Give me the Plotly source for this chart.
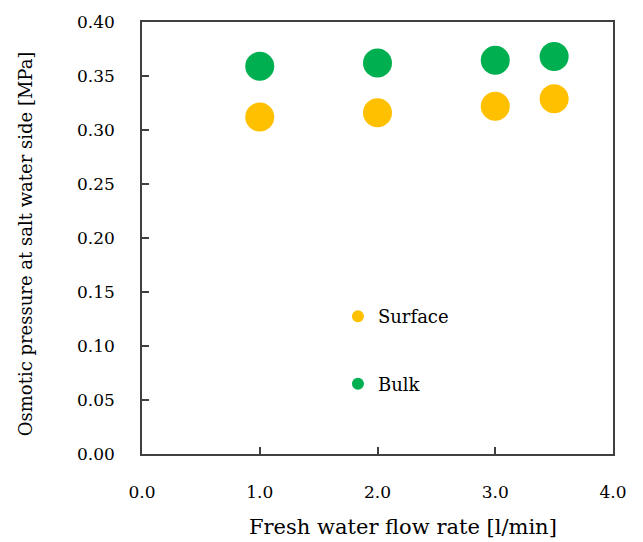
import plotly.graph_objects as go

# Fresh water flow rate [l/min]
flow_rate = [1.0, 2.0, 3.0, 3.5]
# Osmotic pressure at the salt water side [MPa]
surface_pressure = [0.312, 0.316, 0.322, 0.329]
bulk_pressure = [0.359, 0.362, 0.3645, 0.368]

x_ticks = [0.0, 1.0, 2.0, 3.0, 4.0]
y_ticks = [0.00, 0.05, 0.10, 0.15, 0.20, 0.25, 0.30, 0.35, 0.40]

SERIF = "DejaVu Serif"
AXIS_COLOR = "#404040"

fig = go.Figure()
fig.add_trace(go.Scatter(
    x=flow_rate, y=surface_pressure, mode="markers", name="Surface",
    legendgroup="surface",
    marker=dict(color="#FFC000", size=29, line=dict(width=0)),
))
fig.add_trace(go.Scatter(
    x=flow_rate, y=bulk_pressure, mode="markers", name="Bulk",
    legendgroup="bulk",
    marker=dict(color="#00B050", size=29, line=dict(width=0)),
))

axis_common = dict(
    showgrid=False, zeroline=False,
    showline=True, linecolor=AXIS_COLOR, linewidth=1.5, mirror=True,
    ticks="inside", ticklen=7, tickwidth=1.5, tickcolor=AXIS_COLOR,
    tickfont=dict(family=SERIF, size=17, color="#000000"),
)

fig.update_layout(
    width=643, height=542,
    margin=dict(l=142, r=30, t=19, b=88),
    paper_bgcolor="white", plot_bgcolor="white",
    font=dict(family=SERIF, color="#000000"),
    showlegend=True,
    legend=dict(
        x=0.416, y=0.361, xanchor="left", yanchor="top",
        bgcolor="rgba(0,0,0,0)", itemsizing="constant",
        tracegroupgap=41,
        font=dict(family=SERIF, size=18, color="#000000"),
    ),
    xaxis=dict(
        range=[0, 4], tickvals=x_ticks,
        ticktext=[f"{v:.1f}" for v in x_ticks],
        ticklabelstandoff=22,
        **axis_common,
    ),
    yaxis=dict(
        range=[0, 0.40], tickvals=y_ticks,
        ticktext=[f"{v:.2f}" for v in y_ticks],
        ticklabelstandoff=22,
        **axis_common,
    ),
    annotations=[
        dict(text="Fresh water flow rate [l/min]", xref="paper", yref="paper",
             x=0.554, y=-0.168, xanchor="center", yanchor="middle",
             showarrow=False, font=dict(family=SERIF, size=21)),
        dict(text="Osmotic pressure at salt water side [MPa]",
             xref="paper", yref="paper", x=-0.248, y=0.486,
             xanchor="center", yanchor="middle", textangle=-90,
             showarrow=False, font=dict(family=SERIF, size=18)),
    ],
)

fig.write_html("out.html")
